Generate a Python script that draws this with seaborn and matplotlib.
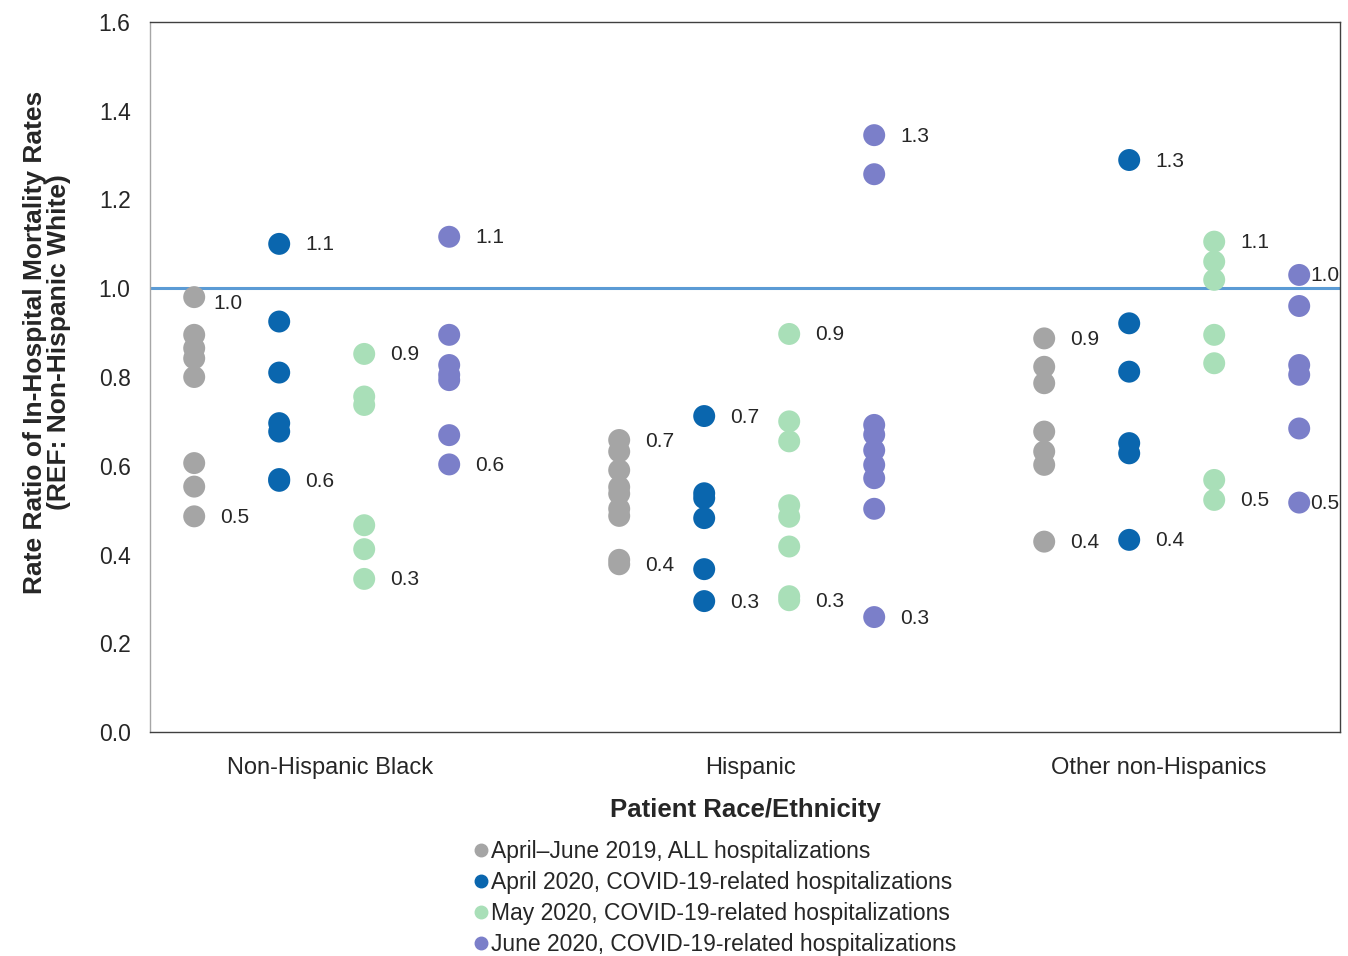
import pandas as pd
import numpy as np
import matplotlib.pyplot as plt
import seaborn as sns
from matplotlib.lines import Line2D

# Données
groupes = ["Non-Hispanic Black", "Hispanic", "Other non-Hispanics"]
series = ["April\u2013June 2019, ALL hospitalizations",
          "April 2020, COVID-19-related hospitalizations",
          "May 2020, COVID-19-related hospitalizations",
          "June 2020, COVID-19-related hospitalizations"]
couleurs = ["#A5A5A5", "#0A66AE", "#A9DFB8", "#7B7FC9"]

nhb_2019 = [0.98, 0.895, 0.865, 0.842, 0.80, 0.606, 0.553, 0.486]
nhb_avr = [1.10, 0.925, 0.81, 0.696, 0.677, 0.570, 0.566]
nhb_mai = [0.852, 0.756, 0.737, 0.466, 0.412, 0.345]
nhb_juin = [1.116, 0.895, 0.827, 0.805, 0.793, 0.669, 0.603]

hisp_2019 = [0.658, 0.632, 0.590, 0.552, 0.537, 0.503, 0.487, 0.388, 0.378]
hisp_avr = [0.712, 0.538, 0.527, 0.482, 0.367, 0.295]
hisp_mai = [0.897, 0.700, 0.655, 0.511, 0.485, 0.418, 0.306, 0.297]
hisp_juin = [1.345, 1.257, 0.692, 0.670, 0.635, 0.602, 0.572, 0.503, 0.259]

autre_2019 = [0.887, 0.823, 0.786, 0.677, 0.632, 0.602, 0.429]
autre_avr = [1.289, 0.921, 0.812, 0.651, 0.628, 0.433]
autre_mai = [1.105, 1.06, 1.019, 0.895, 0.831, 0.568, 0.523]
autre_juin = [1.03, 0.96, 0.827, 0.805, 0.684, 0.517]

valeurs = [[nhb_2019, nhb_avr, nhb_mai, nhb_juin],
           [hisp_2019, hisp_avr, hisp_mai, hisp_juin],
           [autre_2019, autre_avr, autre_mai, autre_juin]]

# Tableau long pour seaborn
lignes = []
for g, grp in enumerate(groupes):
    for s, ser in enumerate(series):
        for v in valeurs[g][s]:
            lignes.append({"Groupe": grp, "Serie": ser, "pos": g * 5 + s, "Ratio": v})
df = pd.DataFrame(lignes)

sns.set_theme(style="white")
plt.rcParams['font.family'] = ['Liberation Sans', 'DejaVu Sans']

fig = plt.figure(figsize=(13.48, 9.56), dpi=100)
ax = fig.add_axes([150 / 1348, 1 - 732 / 956, 1190 / 1348, 710 / 956])

ax.axhline(1.0, color="#5B9BD5", lw=2.2, zorder=1)

sns.scatterplot(data=df, x="pos", y="Ratio", hue="Serie", hue_order=series,
                palette=couleurs, s=250, edgecolor="none", legend=False,
                ax=ax, zorder=3)

# Étiquettes min / max (décalages en pixels)
for g in range(len(groupes)):
    for s in range(len(series)):
        vals = valeurs[g][s]
        for k, v in enumerate((max(vals), min(vals))):
            dx, dy = 26, -1
            if g == 0 and s == 0 and k == 0:
                dx, dy = 19, -6
            if g == 2 and s == 3:
                dx = 11
            ax.annotate(f"{round(v + 1e-9, 1):.1f}", (g * 5 + s, v),
                        xytext=(dx * 0.72, dy * 0.72), textcoords="offset points",
                        ha="left", va="center", fontsize=15, color="#262626")

ax.set_xlim(-0.52, 13.48)
ax.set_ylim(0, 1.6)
ax.set_yticks(np.arange(0, 1.61, 0.2))
ax.set_yticklabels([f"{t:.1f}" for t in np.arange(0, 1.61, 0.2)], fontsize=16.5)
ax.set_xticks([1.6, 6.55, 11.35])
ax.set_xticklabels(groupes, fontsize=17)
ax.tick_params(axis="y", length=0, pad=14)
ax.tick_params(axis="x", length=0, pad=18)

ax.set_xlabel("Patient Race/Ethnicity", fontsize=18.5, fontweight="bold", labelpad=14)
ax.set_ylabel("Rate Ratio of In-Hospital Mortality Rates\n(REF: Non-Hispanic White)",
              fontsize=19, fontweight="bold", linespacing=1.0)
ax.yaxis.set_label_coords(-0.066, 0.549)

for cote in ["top", "right", "bottom"]:
    ax.spines[cote].set_color("#404040")
    ax.spines[cote].set_linewidth(1.0)
ax.spines["left"].set_color("#A6A6A6")
ax.spines["left"].set_linewidth(1.0)

# Légende sous le graphique
poignees = [Line2D([0], [0], marker="o", ls="none", color=c, markersize=9)
            for c in couleurs]
fig.legend(poignees, series, loc="upper left", bbox_to_anchor=(458 / 1348, 1 - 831 / 956),
           frameon=False, fontsize=16.5, handletextpad=-0.15, labelspacing=0.35,
           handlelength=1.2, borderaxespad=0)

plt.savefig("out.png", dpi=100)
plt.close()
